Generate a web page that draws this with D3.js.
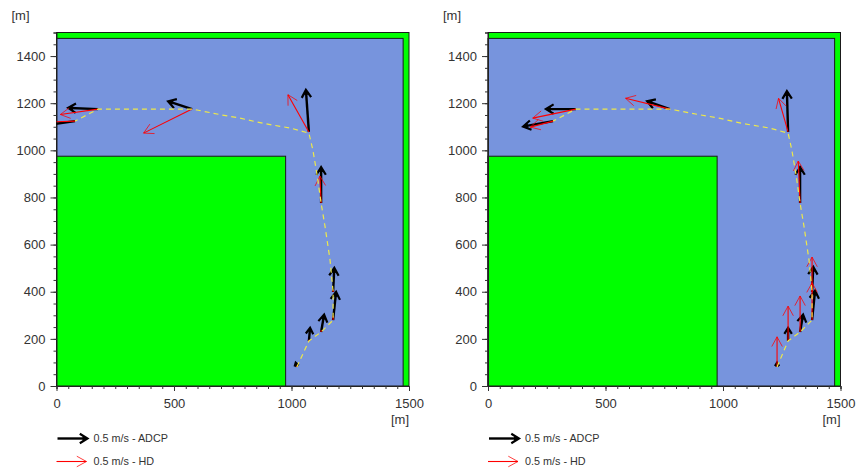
<!DOCTYPE html>
<html><head><meta charset="utf-8">
<script src="https://cdn.jsdelivr.net/npm/d3@7"></script>
<style>html,body{margin:0;padding:0;background:#fff}svg{display:block}
text{font-family:"Liberation Sans",Arial,sans-serif;fill:#333}</style></head>
<body><svg id="c" width="864" height="472"></svg>
<script>
// Track (metres)
const trackXA=[1023,1074,1126,1177,1177,1164,1143,1126,1109,1091,1074,994,921,853,781,704,598,577,177,79];
const trackXB=[1230,1277,1328,1379,1379,1366,1345,1328,1311,1293,1277,1196,1123,1055,983,906,795,774,374,277];
const trackY=[81,191,229,280,399,535,675,776,895,1001,1073,1095,1107,1120,1137,1150,1171,1175,1175,1124];
// Stations
const stationXA=[1023,1074,1126,1177,1177,1126,1074,577,177,79];
const stationXB=[1230,1277,1328,1379,1379,1328,1277,774,374,277];
const stationY=[81,191,229,280,399,776,1078,1175,1175,1124];
// Velocities (m/s)
const adcpUA=[-0.02,0.02,0.05,0.05,0.02,0,-0.05,-0.4,-0.5,-0.5];
const adcpVA=[0.07,0.22,0.29,0.47,0.4,0.6,0.7,0.13,0.02,-0.07];
const hdUA=[0,0,0,0,0,-0.02,-0.35,-0.81,-0.63,-0.6];
const hdVA=[0.02,0.02,0.03,0.07,0.04,0.45,0.62,-0.4,-0.09,-0.02];
const adcpUB=[0,0,0.05,0.05,0.02,0,-0.02,-0.38,-0.5,-0.5];
const adcpVB=[0.07,0.22,0.29,0.49,0.42,0.6,0.68,0.13,0,-0.09];
const hdUB=[0,0,0,0,0,-0.03,-0.16,-0.74,-0.72,-0.38];
const hdVB=[0.5,0.58,0.6,0.62,0.58,0.7,0.56,0.18,-0.15,-0.1];
// Land (metres)
const landEdge=1475, blockEdge=975, domainMax=1500;
const xTicks=[0,500,1000,1500], yTicks=[0,200,400,600,800,1000,1200,1400];
const legendLabels=["0.5 m/s - ADCP","0.5 m/s - HD"], legendSpeed=0.5;
const metresPerMs=255;
const panels=[
 {left:56.5,right:409,tx:trackXA,sx:stationXA,au:adcpUA,av:adcpVA,hu:hdUA,hv:hdVA},
 {left:488,right:840.5,tx:trackXB,sx:stationXB,au:adcpUB,av:adcpVB,hu:hdUB,hv:hdVB}
];
const svg=d3.select("#c");
const water="#7794DD",land="#00FF00",edge="#1a1a1a";
function redArrow(g,x1,y1,x2,y2){
  const L=Math.hypot(x2-x1,y2-y1);
  g.append("line").attr("x1",x1).attr("y1",y1).attr("x2",x2).attr("y2",y2).attr("stroke","#F00").attr("stroke-width",1.1);
  if(L<8) return;
  const a=Math.atan2(y2-y1,x2-x1),h=11,s=0.5;
  g.append("path").attr("d",d3.line()([[x2-h*Math.cos(a-s),y2-h*Math.sin(a-s)],[x2,y2],[x2-h*Math.cos(a+s),y2-h*Math.sin(a+s)]]))
   .attr("fill","none").attr("stroke","#F00").attr("stroke-opacity",0.75).attr("stroke-width",1);
}
function blackArrow(g,x1,y1,x2,y2){
  const L=Math.hypot(x2-x1,y2-y1);
  const a=Math.atan2(y2-y1,x2-x1),h=Math.min(9,L*0.35+2.5),s=0.55;
  g.append("line").attr("x1",x1).attr("y1",y1).attr("x2",x2-Math.cos(a)*2).attr("y2",y2-Math.sin(a)*2).attr("stroke","#000").attr("stroke-width",2.4);
  g.append("path").attr("d",d3.line()([[x2-h*Math.cos(a-s),y2-h*Math.sin(a-s)],[x2,y2],[x2-h*Math.cos(a+s),y2-h*Math.sin(a+s)]]))
   .attr("fill","none").attr("stroke","#000").attr("stroke-width",2.2);
  const t=h*0.6;
  g.append("path").attr("d",d3.line()([[x2,y2],[x2-t*Math.cos(a-0.4),y2-t*Math.sin(a-0.4)],[x2-t*Math.cos(a+0.4),y2-t*Math.sin(a+0.4)]])+"Z").attr("fill","#000");
}
panels.forEach((p,i)=>{
  const x=d3.scaleLinear().domain([0,domainMax]).range([p.left,p.right]);
  const y=d3.scaleLinear().domain([0,domainMax]).range([386,32.5]);
  const g=svg.append("g");
  const clipId="clip"+i;
  svg.append("clipPath").attr("id",clipId).append("rect").attr("x",p.left).attr("y",32.5).attr("width",p.right-p.left).attr("height",353.5);
  g.append("rect").attr("x",x(0)).attr("y",y(domainMax)).attr("width",x(domainMax)-x(0)).attr("height",y(0)-y(domainMax)).attr("fill",land).attr("stroke",edge);
  g.append("rect").attr("x",x(0)).attr("y",y(landEdge)).attr("width",x(landEdge)-x(0)).attr("height",y(0)-y(landEdge)).attr("fill",water).attr("stroke",edge);
  g.append("rect").attr("x",x(0)).attr("y",y(blockEdge)).attr("width",x(blockEdge)-x(0)).attr("height",y(0)-y(blockEdge)).attr("fill",land).attr("stroke",edge);
  const ax=(sel,axis)=>{sel.call(axis);sel.select(".domain").attr("stroke","#222");sel.selectAll("line").attr("stroke","#333");sel.selectAll("text").style("font-size","13px").style("font-family","'Liberation Sans',Arial,sans-serif").attr("fill","#333");};
  const bottom=g.append("g").attr("transform","translate(0,386)");
  ax(bottom,d3.axisBottom(x).tickValues(d3.range(0,1501,50)).tickSize(3).tickFormat(()=> ""));
  const bottomMaj=g.append("g").attr("transform","translate(0,386)");
  ax(bottomMaj,d3.axisBottom(x).tickValues(xTicks).tickSize(5).tickPadding(8).tickFormat(d3.format("d")));
  bottomMaj.select(".domain").remove();
  const leftA=g.append("g").attr("transform",`translate(${p.left},0)`);
  ax(leftA,d3.axisLeft(y).tickValues(d3.range(0,1501,50)).tickSize(3).tickFormat(()=> ""));
  const leftMaj=g.append("g").attr("transform",`translate(${p.left},0)`);
  ax(leftMaj,d3.axisLeft(y).tickValues(yTicks).tickSize(6).tickPadding(5).tickFormat(d3.format("d")));
  leftMaj.select(".domain").remove();
  g.append("text").attr("x",p.left-45).attr("y",20).style("font-size","13px").text("[m]");
  g.append("text").attr("x",p.right-18).attr("y",424).style("font-size","13px").text("[m]");
  const fg=g.append("g").attr("clip-path",`url(#${clipId})`);
  stationY.forEach((sy,j)=>{
    blackArrow(fg,x(p.sx[j]),y(sy),x(p.sx[j]+p.au[j]*metresPerMs),y(sy+p.av[j]*metresPerMs));
  });
  stationY.forEach((sy,j)=>{
    redArrow(fg,x(p.sx[j]),y(sy),x(p.sx[j]+p.hu[j]*metresPerMs),y(sy+p.hv[j]*metresPerMs));
  });
  fg.append("path").attr("d",d3.line().x((d,j)=>x(p.tx[j])).y(d=>y(d))(trackY))
    .attr("fill","none").attr("stroke","#EDE84A").attr("stroke-width",1.2).attr("stroke-dasharray","5 4");
  const len=x(legendSpeed*metresPerMs)-x(0);
  const l=g.append("g");
  blackArrow(l,p.left+1,438.5,p.left+1+len,438.5);
  redArrow(l,p.left,461.5,p.left+len,461.5);
  legendLabels.forEach((t,k)=>l.append("text").attr("x",p.left+37).attr("y",442+k*23).style("font-size","10.8px").text(t));
});
</script></body></html>
